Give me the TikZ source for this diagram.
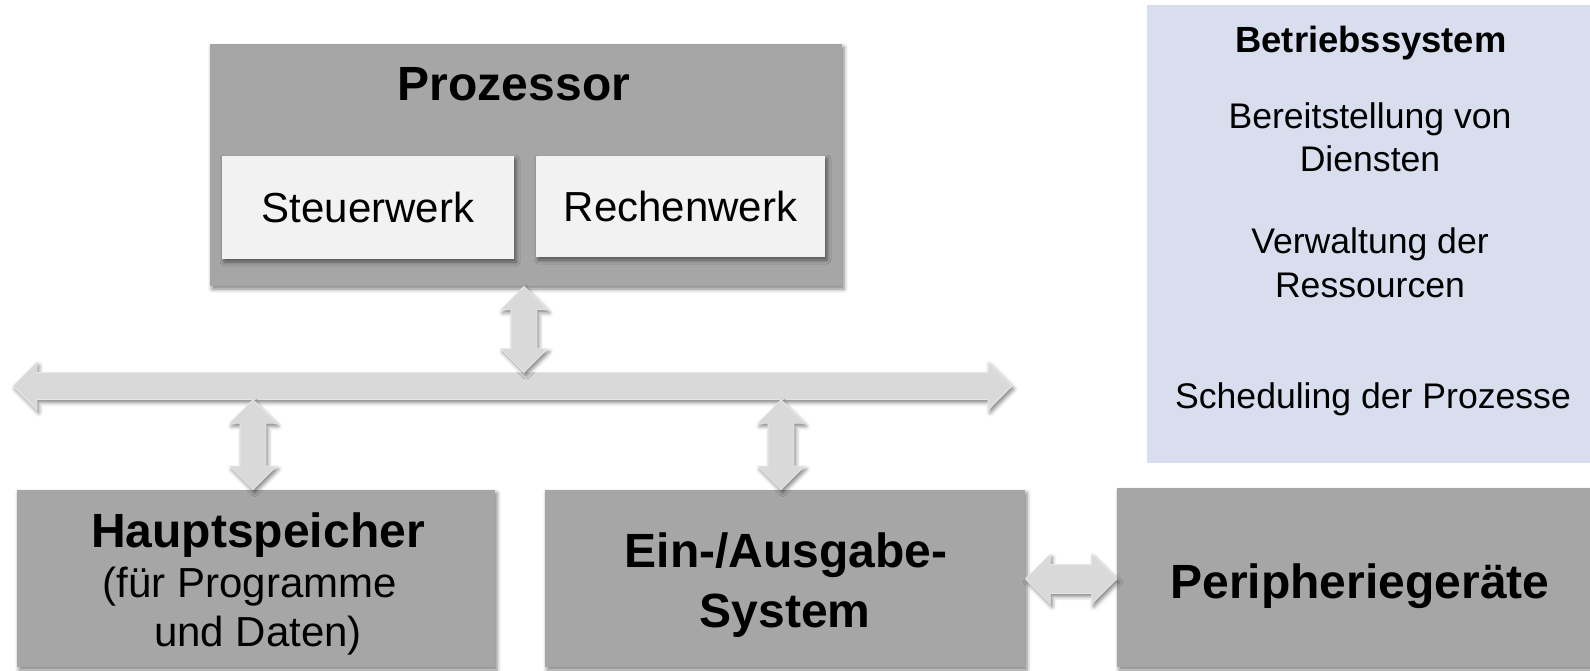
\documentclass[tikz,border=0pt]{standalone}
\usepackage{fontspec}
\setmainfont{Liberation Sans}
\usetikzlibrary{shapes.arrows,shadows.blur,calc}
\definecolor{boxgray}{HTML}{A6A6A6}
\definecolor{innergray}{HTML}{F2F2F2}
\definecolor{arrowgray}{HTML}{D9D9D9}
\definecolor{arrowedge}{HTML}{E6E6E6}
\definecolor{oslav}{HTML}{D9DEEF}
\begin{document}
\begin{tikzpicture}[x=0.5pt,y=-0.5pt,
  boxshadow/.style={blur shadow={shadow xshift=1pt,shadow yshift=-1.5pt,shadow blur radius=2pt,shadow opacity=50}},
  graybox/.style={rectangle,fill=boxgray,inner sep=0pt,boxshadow},
  innerbox/.style={rectangle,fill=innergray,inner sep=0pt,boxshadow,font=\fontsize{21}{25}\selectfont},
  osbox/.style={rectangle,fill=oslav,inner sep=0pt},
  bigtitle/.style={anchor=base,inner sep=0pt,font=\fontsize{24}{29}\selectfont\bfseries},
  subtext/.style={anchor=base,inner sep=0pt,font=\fontsize{21}{25}\selectfont},
  ostitle/.style={anchor=base,inner sep=0pt,font=\fontsize{18.2}{21}\selectfont\bfseries},
  ostext/.style={anchor=base,inner sep=0pt,font=\fontsize{17.8}{21.5}\selectfont},
  blockarrow/.style={shape=double arrow,fill=arrowgray,draw=arrowedge,line width=0.4pt,inner sep=0pt,
    text width=0pt,double arrow head extend=5.25pt,double arrow tip angle=90,boxshadow},
  shaft/.style={text height=#1,text depth=#1},
]
\useasboundingbox (0,0) rectangle (1590,670);

% Betriebssystem panel
\node[osbox, minimum width=222.5pt, minimum height=229pt] (os) at (1369.5,234) {};
\node[ostitle] (ost) at (1371,52) {Betriebssystem};
\node[ostext] (os1a) at (1370,128) {Bereitstellung von};
\node[ostext] (os1b) at (1370,171) {Diensten};
\node[ostext] (os2a) at (1370,253) {Verwaltung der};
\node[ostext] (os2b) at (1370,297) {Ressourcen};
\node[ostext] (os3) at (1373,408) {Scheduling der Prozesse};

% Prozessor
\node[graybox, minimum width=316pt, minimum height=121pt] (proz) at (526,165) {};
\node[bigtitle] (prozt) at (514,100) {Prozessor};
\node[innerbox, minimum width=146pt, minimum height=51.5pt] (steuer) at (368,207.5) {Steuerwerk};
\node[innerbox, minimum width=144.5pt, minimum height=50.5pt] (rechen) at (680.5,206.5) {Rechenwerk};

% lower boxes
\node[graybox, minimum width=239pt, minimum height=88.5pt] (hs) at (256,578.5) {};
\node[bigtitle] (hst) at (258,547) {Hauptspeicher};
\node[subtext] (hs1) at (250,597) {(für Programme};
\node[subtext] (hs2) at (258,646) {und Daten)};

\node[graybox, minimum width=240pt, minimum height=88.5pt] (eas) at (785,578.5) {};
\node[bigtitle] (eas1) at (786,567) {Ein-/Ausgabe-};
\node[bigtitle] (eas2) at (785,627) {System};

\node[graybox, minimum width=237.5pt, minimum height=89.5pt] (per) at (1354.5,577.5) {};
\node[bigtitle] (pert) at (1360,598) {Peripheriegeräte};

% bus
\node[blockarrow, shaft=6.5pt, minimum height=499.5pt] (bus) at (512.5,386) {};

% connectors
\coordinate (xa) at (524,0);
\coordinate (xb) at (253,0);
\coordinate (xc) at (781,0);
\coordinate (ya) at (0,579);

\path let \p1=(proz.south), \p2=(bus.north) in
  node[blockarrow, shaft=6.25pt, rotate=90, minimum height={(\y1)-(\y2)}] (a1)
  at ($(proz.south -| xa)!0.5!(bus.north -| xa)$) {};
\path let \p1=(bus.south), \p2=(hs.north) in
  node[blockarrow, shaft=6.25pt, rotate=90, minimum height={(\y1)-(\y2)}] (a2)
  at ($(bus.south -| xb)!0.5!(hs.north -| xb)$) {};
\path let \p1=(bus.south), \p2=(eas.north) in
  node[blockarrow, shaft=6.25pt, rotate=90, minimum height={(\y1)-(\y2)}] (a3)
  at ($(bus.south -| xc)!0.5!(eas.north -| xc)$) {};
\path let \p1=(eas.east), \p2=(per.west) in
  node[blockarrow, shaft=7pt, minimum height={(\x2)-(\x1)}] (a4)
  at ($(eas.east |- ya)!0.5!(per.west |- ya)$) {};
\end{tikzpicture}
\end{document}
